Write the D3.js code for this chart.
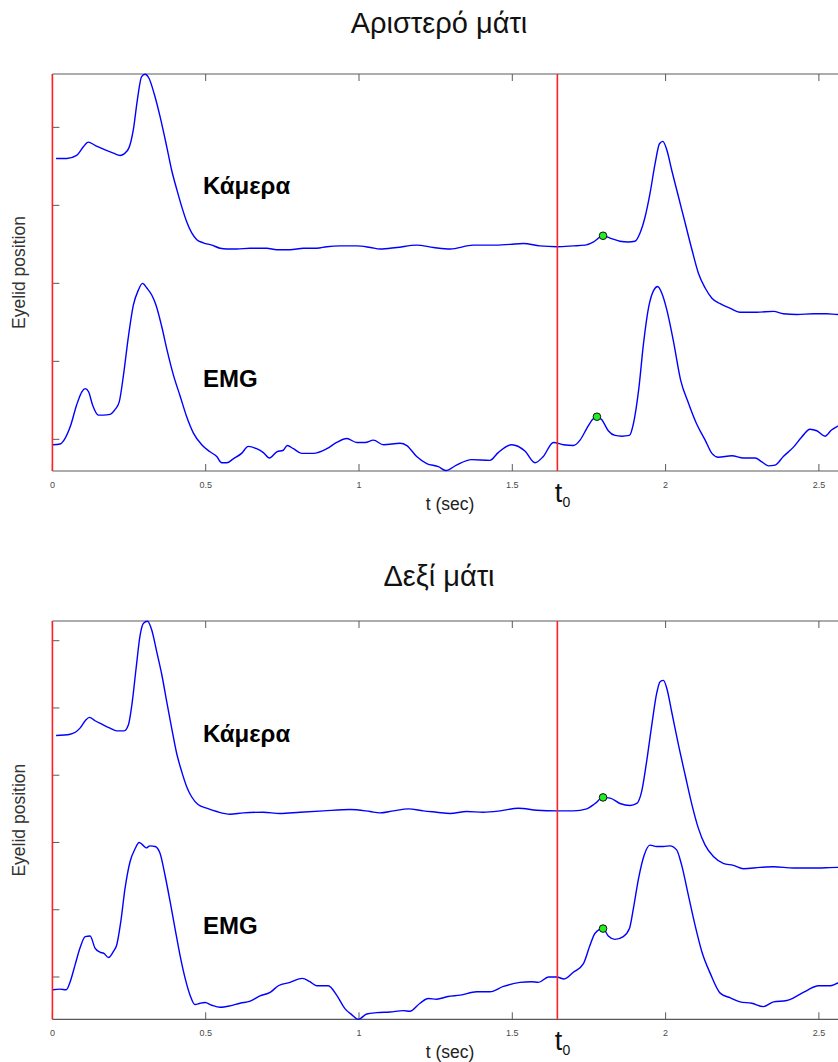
<!DOCTYPE html>
<html>
<head>
<meta charset="utf-8">
<script src="https://cdn.jsdelivr.net/npm/d3@7"></script>
<style>
  html, body { margin: 0; padding: 0; background: #fff; }
  svg { display: block; font-family: Arial, "Liberation Sans", Helvetica, sans-serif; }
</style>
</head>
<body>
<svg id="fig" width="838" height="1062"></svg>
<script>
// ---- Time ticks and event markers ----
const xTicks = [0, 0.5, 1, 1.5, 2, 2.5];
const xTickLabels = ["0", "0.5", "1", "1.5", "2", "2.5"];
const t0 = 1.647;

// ---- Left eye (Αριστερό μάτι) ----
const leftCamT = [0.012,0.047,0.079,0.101,0.117,0.139,0.172,0.199,0.221,0.234,0.250,0.264,0.277,0.291,0.302,0.315,0.332,0.351,0.373,0.389,0.406,0.422,0.438,0.454,0.471,0.492,0.520,0.547,0.569,0.601,0.645,0.699,0.732,0.775,0.819,0.862,0.895,0.938,0.993,1.037,1.069,1.123,1.188,1.243,1.297,1.373,1.438,1.493,1.536,1.590,1.645,1.699,1.737,1.764,1.796,1.819,1.851,1.878,1.900,1.916,1.933,1.949,1.966,1.980,1.991,2.004,2.020,2.042,2.064,2.086,2.107,2.129,2.151,2.178,2.211,2.242,2.297,2.352,2.384,2.428,2.482,2.525,2.562,2.600];
const leftCamV = [3.60,3.60,3.64,3.75,3.81,3.77,3.71,3.67,3.64,3.66,3.74,3.97,4.35,4.65,4.68,4.63,4.43,4.14,3.75,3.45,3.20,2.98,2.79,2.65,2.56,2.52,2.49,2.45,2.44,2.44,2.45,2.45,2.43,2.43,2.45,2.45,2.47,2.48,2.48,2.46,2.44,2.46,2.49,2.46,2.44,2.49,2.49,2.50,2.51,2.48,2.47,2.48,2.49,2.53,2.61,2.58,2.54,2.53,2.54,2.64,2.85,3.15,3.54,3.79,3.82,3.71,3.45,3.11,2.77,2.43,2.13,1.94,1.81,1.74,1.68,1.63,1.63,1.64,1.61,1.60,1.61,1.61,1.60,1.60];

const leftEmgT = [0.001,0.025,0.041,0.058,0.079,0.096,0.107,0.118,0.131,0.150,0.166,0.188,0.204,0.218,0.231,0.248,0.264,0.280,0.294,0.308,0.324,0.338,0.357,0.373,0.395,0.417,0.438,0.460,0.487,0.514,0.536,0.552,0.569,0.590,0.617,0.639,0.666,0.688,0.708,0.732,0.753,0.766,0.786,0.813,0.851,0.895,0.927,0.960,0.993,1.020,1.047,1.080,1.134,1.156,1.188,1.221,1.259,1.283,1.318,1.367,1.427,1.454,1.498,1.541,1.574,1.601,1.634,1.667,1.699,1.721,1.743,1.763,1.776,1.792,1.813,1.835,1.857,1.882,1.895,1.912,1.928,1.945,1.961,1.974,1.988,2.004,2.025,2.049,2.075,2.101,2.129,2.151,2.172,2.216,2.254,2.292,2.314,2.335,2.357,2.384,2.417,2.444,2.471,2.493,2.520,2.541,2.562,2.600];
const leftEmgV = [-0.07,-0.06,0.01,0.16,0.44,0.61,0.65,0.61,0.44,0.31,0.31,0.32,0.38,0.48,0.80,1.32,1.72,1.91,2.00,1.94,1.85,1.72,1.44,1.16,0.82,0.55,0.29,0.08,-0.07,-0.16,-0.22,-0.30,-0.30,-0.25,-0.18,-0.09,-0.12,-0.17,-0.24,-0.16,-0.14,-0.08,-0.12,-0.18,-0.18,-0.12,-0.04,0.01,-0.04,-0.04,-0.01,-0.07,-0.05,-0.08,-0.22,-0.31,-0.35,-0.40,-0.33,-0.26,-0.27,-0.17,-0.07,-0.15,-0.30,-0.22,-0.04,-0.07,-0.08,-0.01,0.14,0.26,0.29,0.25,0.11,0.05,0.04,0.05,0.20,0.63,1.23,1.70,1.91,1.96,1.87,1.66,1.27,0.76,0.46,0.20,-0.01,-0.18,-0.23,-0.21,-0.24,-0.24,-0.29,-0.34,-0.33,-0.22,-0.10,0.03,0.13,0.11,0.04,0.12,0.17,0.24];

// onset markers: [time, value]
const leftCamOnset = [1.796, 2.61];
const leftEmgOnset = [1.776, 0.29];

// ---- Right eye (Δεξί μάτι) ----
const rightCamT = [0.012,0.058,0.090,0.107,0.121,0.139,0.161,0.188,0.210,0.234,0.248,0.259,0.273,0.286,0.297,0.310,0.324,0.340,0.357,0.373,0.389,0.405,0.422,0.438,0.454,0.476,0.503,0.536,0.579,0.623,0.688,0.742,0.808,0.884,0.971,1.036,1.068,1.112,1.161,1.210,1.253,1.297,1.351,1.405,1.460,1.520,1.580,1.645,1.699,1.743,1.770,1.796,1.819,1.851,1.884,1.906,1.922,1.938,1.955,1.971,1.982,1.993,2.004,2.020,2.042,2.064,2.086,2.107,2.129,2.156,2.188,2.221,2.254,2.308,2.352,2.417,2.482,2.562,2.600];
const rightCamV = [3.59,3.61,3.70,3.81,3.86,3.81,3.76,3.70,3.66,3.66,3.75,4.04,4.59,5.08,5.26,5.29,5.16,4.84,4.49,4.09,3.70,3.33,3.05,2.83,2.68,2.56,2.51,2.46,2.42,2.44,2.45,2.43,2.45,2.47,2.49,2.46,2.44,2.47,2.50,2.47,2.45,2.43,2.46,2.45,2.47,2.51,2.48,2.47,2.47,2.50,2.58,2.67,2.66,2.58,2.55,2.58,2.76,3.20,3.75,4.22,4.39,4.41,4.29,3.94,3.45,3.00,2.56,2.21,1.96,1.79,1.69,1.66,1.61,1.63,1.64,1.62,1.62,1.63,1.63];

const rightEmgT = [0.001,0.025,0.045,0.058,0.074,0.090,0.107,0.123,0.139,0.155,0.168,0.183,0.199,0.210,0.223,0.237,0.253,0.270,0.283,0.295,0.306,0.318,0.335,0.351,0.367,0.384,0.400,0.416,0.433,0.449,0.465,0.482,0.498,0.520,0.547,0.579,0.612,0.645,0.677,0.710,0.737,0.775,0.815,0.840,0.862,0.900,0.927,0.954,0.976,0.998,1.025,1.058,1.101,1.145,1.166,1.199,1.226,1.253,1.290,1.330,1.384,1.427,1.471,1.525,1.563,1.585,1.618,1.645,1.669,1.699,1.732,1.754,1.770,1.796,1.813,1.835,1.862,1.882,1.895,1.912,1.930,1.949,1.971,1.993,2.014,2.036,2.052,2.074,2.096,2.118,2.146,2.178,2.211,2.243,2.281,2.319,2.352,2.395,2.433,2.465,2.498,2.536,2.562,2.600];
const rightEmgV = [-0.19,-0.18,-0.19,-0.07,0.18,0.43,0.60,0.61,0.43,0.37,0.35,0.29,0.38,0.48,0.82,1.32,1.71,1.91,2.00,1.96,1.92,1.95,1.94,1.84,1.52,1.12,0.72,0.33,-0.02,-0.27,-0.41,-0.39,-0.38,-0.42,-0.45,-0.43,-0.39,-0.36,-0.28,-0.23,-0.13,-0.08,-0.02,-0.07,-0.13,-0.13,-0.27,-0.47,-0.56,-0.63,-0.55,-0.53,-0.52,-0.50,-0.51,-0.39,-0.32,-0.33,-0.29,-0.27,-0.22,-0.22,-0.14,-0.08,-0.07,-0.08,0.00,0.00,-0.03,0.07,0.20,0.48,0.65,0.72,0.61,0.56,0.60,0.72,1.02,1.47,1.81,1.96,1.94,1.94,1.95,1.89,1.67,1.22,0.77,0.38,0.05,-0.24,-0.31,-0.37,-0.39,-0.44,-0.37,-0.35,-0.27,-0.19,-0.13,-0.13,-0.09,-0.06];

const rightCamOnset = [1.796, 2.67];
const rightEmgOnset = [1.796, 0.72];

// ---- Figure ----
const svg = d3.select("#fig");
const x = d3.scaleLinear().domain([0, 3]).range([52.4, 972.2]);

const panels = [
  {
    title: "Αριστερό μάτι", titleY: 33,
    top: 74, bottom: 471, yDomain: [-0.406, 4.684], yTicks: [0, 1, 2, 3, 4],
    cam: [leftCamT, leftCamV], emg: [leftEmgT, leftEmgV],
    camOnset: leftCamOnset, emgOnset: leftEmgOnset,
    camLabelY: 194, emgLabelY: 387
  },
  {
    title: "Δεξί μάτι", titleY: 586,
    top: 621, bottom: 1019.3, yDomain: [-0.629, 5.293], yTicks: [0, 1, 2, 3, 4, 5],
    cam: [rightCamT, rightCamV], emg: [rightEmgT, rightEmgV],
    camOnset: rightCamOnset, emgOnset: rightEmgOnset,
    camLabelY: 742, emgLabelY: 934
  }
];

const axisGray = "#5a5a5a";

panels.forEach((p, i) => {
  const y = d3.scaleLinear().domain(p.yDomain).range([p.bottom, p.top]);
  const g = svg.append("g");
  const x0 = x.range()[0], x1 = x.range()[1];

  // title
  g.append("text").attr("x", 439).attr("y", p.titleY)
    .attr("text-anchor", "middle").attr("font-size", 29).attr("fill", "#111")
    .text(p.title);

  // y label
  g.append("text")
    .attr("transform", `translate(25,${(p.top + p.bottom) / 2}) rotate(-90)`)
    .attr("text-anchor", "middle").attr("font-size", 17.5).attr("fill", "#333")
    .text("Eyelid position");

  // box lines (top and bottom)
  g.append("line").attr("x1", x0).attr("x2", x1).attr("y1", p.top).attr("y2", p.top)
    .attr("stroke", axisGray).attr("stroke-width", 1);
  g.append("line").attr("x1", x0).attr("x2", x1).attr("y1", p.bottom).attr("y2", p.bottom)
    .attr("stroke", axisGray).attr("stroke-width", 1.2);

  // x ticks (bottom and top, pointing inward)
  xTicks.forEach((t, k) => {
    const xx = x(t);
    g.append("line").attr("x1", xx).attr("x2", xx).attr("y1", p.bottom).attr("y2", p.bottom - 7)
      .attr("stroke", axisGray);
    g.append("line").attr("x1", xx).attr("x2", xx).attr("y1", p.top).attr("y2", p.top + 7)
      .attr("stroke", axisGray);
    g.append("text").attr("x", xx).attr("y", p.bottom + 17)
      .attr("text-anchor", "middle").attr("font-size", 9).attr("fill", "#4a4a4a")
      .text(xTickLabels[k]);
  });

  // y ticks
  p.yTicks.forEach(v => {
    g.append("line").attr("x1", x0).attr("x2", x0 + 7).attr("y1", y(v)).attr("y2", y(v))
      .attr("stroke", axisGray);
  });

  // x label
  g.append("text").attr("x", 450).attr("y", p.bottom + 39)
    .attr("text-anchor", "middle").attr("font-size", 17.5).attr("fill", "#222")
    .text("t (sec)");

  // signals
  const line = d3.line().x(d => x(d[0])).y(d => y(d[1])).curve(d3.curveMonotoneX);
  [p.cam, p.emg].forEach(s => {
    const pts = s[0].map((t, k) => [t, s[1][k]]);
    g.append("path").datum(pts).attr("d", line)
      .attr("fill", "none").attr("stroke", "#0000ff").attr("stroke-width", 1.4)
      .attr("stroke-linejoin", "round");
  });

  // t = 0 and t0 markers
  [0, t0].forEach(t => {
    g.append("line").attr("x1", x(t)).attr("x2", x(t)).attr("y1", p.top).attr("y2", p.bottom)
      .attr("stroke", "#ff2020").attr("stroke-width", 1.6);
  });

  // t0 label
  const tl = g.append("text").attr("x", x(t0) - 2.5).attr("y", p.bottom + 31)
    .attr("font-size", 27).attr("fill", "#111");
  tl.append("tspan").text("t");
  tl.append("tspan").attr("font-size", 14).attr("dy", 5).text("0");

  // onset points
  [p.camOnset, p.emgOnset].forEach(o => {
    g.append("circle").attr("cx", x(o[0])).attr("cy", y(o[1])).attr("r", 3.8)
      .attr("fill", "#22ee22").attr("stroke", "#111").attr("stroke-width", 1);
  });

  // series labels
  g.append("text").attr("x", 203).attr("y", p.camLabelY)
    .attr("font-size", 24).attr("font-weight", "bold").attr("fill", "#000").text("Κάμερα");
  g.append("text").attr("x", 203).attr("y", p.emgLabelY)
    .attr("font-size", 24).attr("font-weight", "bold").attr("fill", "#000").text("EMG");
});
</script>
</body>
</html>
